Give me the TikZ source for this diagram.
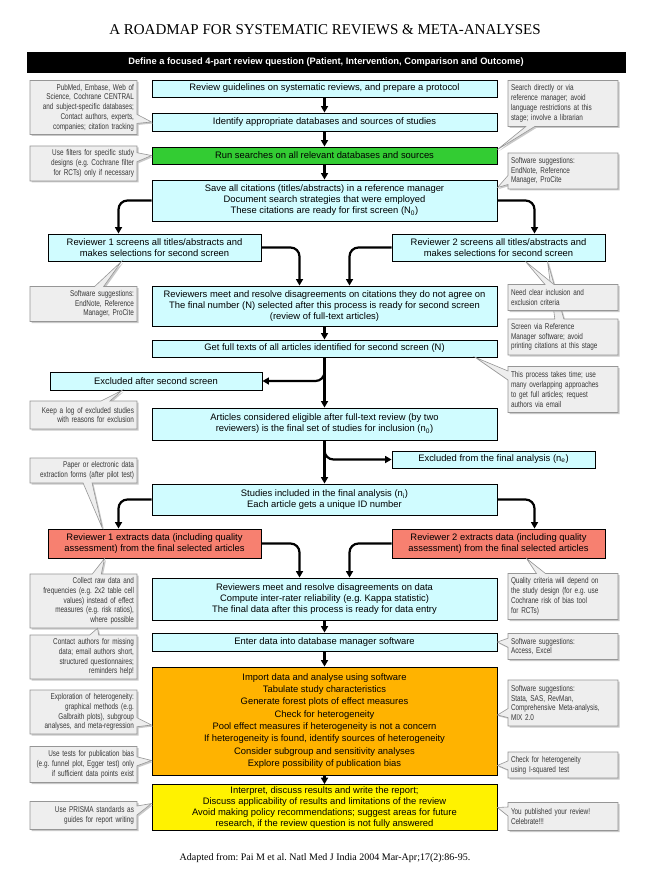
\documentclass[tikz,border=0pt]{standalone}
\usepackage{fontspec}
\setmainfont{Liberation Sans}
\newfontfamily\keskeny[FakeStretch=0.76]{Liberation Sans}
\newfontfamily\talpas{Liberation Serif}
\usetikzlibrary{arrows.meta,positioning,calc,shapes.callouts,shadows}
\frenchspacing
\definecolor{halvany}{RGB}{208,252,255}
\definecolor{zold}{RGB}{51,204,51}
\definecolor{lazac}{RGB}{247,128,112}
\definecolor{narancs}{RGB}{255,179,0}
\definecolor{sarga}{RGB}{255,242,0}
\definecolor{megjhat}{RGB}{238,238,238}
\definecolor{megjvon}{RGB}{150,150,150}
\definecolor{megjbetu}{RGB}{55,55,55}
\tikzset{
  lepes/.style={draw,line width=0.9pt,fill=halvany,minimum width=345pt,inner sep=2pt,
    align=center,font=\fontsize{9.4}{11}\selectfont},
  oldal/.style={lepes,minimum width=213pt},
  iv/.style={line width=2.2pt,-{Triangle[length=6.5pt,width=7pt]}},
  ivg/.style={iv,rounded corners=9pt},
  megj/.style={rectangle callout,draw=megjvon,fill=megjhat,line width=0.6pt,
    text=megjbetu,inner sep=3pt,callout pointer width=9pt,
    font=\keskeny\fontsize{8.4}{9.8}\selectfont,
    drop shadow={shadow xshift=1.5pt,shadow yshift=-1.5pt,fill=gray!70,opacity=0.6}},
  megjbal/.style={megj,align=right,text width=101pt},
  megjjobb/.style={megj,align=left,text width=104pt},
}
\begin{document}
\begin{tikzpicture}[x=1pt,y=-1pt]
  \fill[white] (0,0) rectangle (650,877);
  \useasboundingbox (0,0) rectangle (650,877);
  \node[font=\talpas\fontsize{15}{17}\selectfont] (cim) at (325,30) {A ROADMAP FOR SYSTEMATIC REVIEWS \& META-ANALYSES};
  \node[lepes,fill=black,text=white,minimum width=598pt,minimum height=20pt,
    font=\bfseries\fontsize{9.3}{11}\selectfont] (kerdes) at (326,62)
    {Define a focused 4-part review question (Patient, Intervention, Comparison and Outcome)};

  % fo oszlop
  \node[lepes,minimum height=17pt] (proto) at (324.5,88.5) {Review guidelines on systematic reviews, and prepare a protocol};
  \node[lepes,minimum height=18pt] (forras) at (324.5,122) {Identify appropriate databases and sources of studies};
  \node[lepes,fill=zold,minimum height=17pt] (kereses) at (324.5,155.5) {Run searches on all relevant databases and sources};
  \node[lepes,minimum height=41pt] (mentes) at (324.5,200.5) {Save all citations (titles/abstracts) in a reference manager\\
    Document search strategies that were employed\\These citations are ready for first screen (N\textsubscript{0})};
  \node[oldal,minimum height=27pt] (biral1) at (154.5,247.5) {Reviewer 1 screens all titles/abstracts and\\makes selections for second screen};
  \node[oldal,minimum height=27pt] (biral2) at (498.5,247.5) {Reviewer 2 screens all titles/abstracts and\\makes selections for second screen};
  \node[lepes,minimum height=40pt] (egyezt1) at (324.5,306) {Reviewers meet and resolve disagreements on citations they do not agree on\\
    The final number (N) selected after this process is ready for second screen\\(review of full-text articles)};
  \node[lepes,minimum height=17pt] (teljes) at (324.5,348.5) {Get full texts of all articles identified for second screen (N)};
  \node[oldal,minimum width=212pt,minimum height=18pt] (kizar1) at (156,381) {Excluded after second screen};
  \node[lepes,minimum height=32pt] (alkalmas) at (324.5,424) {Articles considered eligible after full-text review (by two\\
    reviewers) is the final set of studies for inclusion (n\textsubscript{0})};
  \node[oldal,minimum width=203pt,minimum height=17pt] (kizar2) at (493.5,459.5) {Excluded from the final analysis (n\textsubscript{e})};
  \node[lepes,minimum height=31pt] (bevont) at (324.5,499.5) {Studies included in the final analysis (n\textsubscript{i})\\Each article gets a unique ID number};
  \node[oldal,fill=lazac,minimum height=29pt] (kinyer1) at (154.5,543.5) {Reviewer 1 extracts data (including quality\\assessment) from the final selected articles};
  \node[oldal,fill=lazac,minimum height=29pt] (kinyer2) at (498.5,543.5) {Reviewer 2 extracts data (including quality\\assessment) from the final selected articles};
  \node[lepes,minimum height=42pt] (egyezt2) at (324.5,599) {Reviewers meet and resolve disagreements on data\\
    Compute inter-rater reliability (e.g. Kappa statistic)\\The final data after this process is ready for data entry};
  \node[lepes,minimum height=18pt] (bevitel) at (324.5,642) {Enter data into database manager software};
  \node[lepes,fill=narancs,minimum height=108pt,font=\fontsize{9.4}{12.3}\selectfont] (elemzes) at (324.5,721)
    {Import data and analyse using software\\Tabulate study characteristics\\Generate forest plots of effect measures\\
    Check for heterogeneity\\Pool effect measures if heterogeneity is not a concern\\
    If heterogeneity is found, identify sources of heterogeneity\\Consider subgroup and sensitivity analyses\\
    Explore possibility of publication bias};
  \node[lepes,fill=sarga,minimum height=45pt] (jelentes) at (324.5,807.5) {Interpret, discuss results and write the report;\\
    Discuss applicability of results and limitations of the review\\
    Avoid making policy recommendations; suggest areas for future\\research, if the review question is not fully answered};
  \node[font=\talpas\fontsize{10}{12}\selectfont] (forrasmu) at (325,858) {Adapted from: Pai M et al. Natl Med J India 2004 Mar-Apr;17(2):86-95.};

  % nyilak
  \draw[iv] (proto) -- (forras);
  \draw[iv] (forras) -- (kereses);
  \draw[iv] (kereses) -- (mentes);
  \draw[ivg] (mentes.west) -| ([xshift=-36pt]biral1.north);
  \draw[ivg] (mentes.east) -| ([xshift=36pt]biral2.north);
  \draw[ivg] (biral1.east) -| ([xshift=-25pt]egyezt1.north);
  \draw[ivg] (biral2.west) -| ([xshift=25pt]egyezt1.north);
  \draw[iv] (egyezt1) -- (teljes);
  \draw[iv] (teljes) -- (alkalmas);
  \draw[ivg] (teljes.south) |- (kizar1.east);
  \draw[iv] (alkalmas) -- (bevont);
  \draw[ivg] (alkalmas.south) |- (kizar2.west);
  \draw[ivg] (bevont.west) -| ([xshift=-36pt]kinyer1.north);
  \draw[ivg] (bevont.east) -| ([xshift=36pt]kinyer2.north);
  \draw[ivg] (kinyer1.east) -| ([xshift=-25pt]egyezt2.north);
  \draw[ivg] (kinyer2.west) -| ([xshift=25pt]egyezt2.north);
  \draw[iv] (egyezt2) -- (bevitel);
  \draw[iv] (bevitel) -- (elemzes);
  \draw[iv] (elemzes) -- (jelentes);

  % megjegyzesek bal oldalon
  \node[megjbal,minimum height=54pt,callout absolute pointer={(forras.west)}] (m1) at (83.5,107.5)
    {PubMed, Embase, Web of\\Science, Cochrane CENTRAL\\and subject-specific databases;\\Contact authors, experts,\\companies; citation tracking};
  \node[megjbal,minimum height=35pt,callout absolute pointer={(kereses.west)}] (m2) at (83.5,163.5)
    {Use filters for specific study\\designs (e.g. Cochrane filter\\for RCTs) only if necessary};
  \node[megjbal,minimum height=35pt,callout absolute pointer={([xshift=-33pt]biral1.south)}] (m3) at (83.5,304)
    {Software suggestions:\\EndNote, Reference\\Manager, ProCite};
  \node[megjbal,minimum height=28pt,callout absolute pointer={([xshift=-34pt]kizar1.south)}] (m4) at (83.5,415)
    {Keep a log of excluded studies\\with reasons for exclusion};
  \node[megjbal,minimum height=25pt,callout absolute pointer={([xshift=-52pt]kinyer1.north)}] (m5) at (83.5,470.5)
    {Paper or electronic data\\extraction forms (after pilot test)};
  \node[megjbal,minimum height=54pt,callout absolute pointer={([xshift=-50pt]kinyer1.south)}] (m6) at (83.5,601)
    {Collect raw data and\\frequencies (e.g. 2x2 table cell\\values) instead of effect\\measures (e.g. risk ratios),\\where possible};
  \node[megjbal,minimum height=44pt,callout absolute pointer={([xshift=14pt]m6.south)}] (m7) at (83.5,657)
    {Contact authors for missing\\data; email authors short,\\structured questionnaires;\\reminders help!};
  \node[megjbal,minimum height=44pt,callout absolute pointer={([yshift=-4pt]elemzes.west)}] (m8) at (83.5,712)
    {Exploration of heterogeneity:\\graphical methods (e.g.\\Galbraith plots), subgroup\\analyses, and meta-regression};
  \node[megjbal,minimum height=36pt,callout absolute pointer={([yshift=15pt]elemzes.south west)}] (m9) at (83.5,764.5)
    {Use tests for publication bias\\(e.g. funnel plot, Egger test) only\\if sufficient data points exist};
  \node[megjbal,minimum height=28pt,callout absolute pointer={([yshift=4pt]jelentes.west)}] (m10) at (83.5,815.5)
    {Use PRISMA standards as\\guides for report writing};

  % megjegyzesek jobb oldalon
  \node[megjjobb,minimum height=46pt,callout absolute pointer={([yshift=-3pt]kereses.north east)}] (n1) at (563,103.5)
    {Search directly or via\\reference manager; avoid\\language restrictions at this\\stage; involve a librarian};
  \node[megjjobb,minimum height=36pt,callout absolute pointer={([yshift=-8pt]mentes.north east)}] (n2) at (563,171)
    {Software suggestions:\\EndNote, Reference\\Manager, ProCite};
  \node[megjjobb,minimum height=36pt,callout absolute pointer={([xshift=49pt]biral2.south)}] (n4) at (563,337)
    {Screen via Reference\\Manager software; avoid\\printing citations at this stage};
  \node[megjjobb,minimum height=26pt,callout absolute pointer={([xshift=27pt]biral2.south)}] (n3) at (563,297.5)
    {Need clear inclusion and\\exclusion criteria};
  \node[megjjobb,minimum height=46pt,callout absolute pointer={([xshift=-22pt]teljes.south east)}] (n5) at (563,389.5)
    {This process takes time; use\\many overlapping approaches\\to get full articles; request\\authors via email};
  \node[megjjobb,minimum height=46pt,callout absolute pointer={([xshift=28pt]kinyer2.south)}] (n6) at (563,596.5)
    {Quality criteria will depend on\\the study design (for e.g. use\\Cochrane risk of bias tool\\for RCTs)};
  \node[megjjobb,minimum height=26pt,callout absolute pointer={(bevitel.east)}] (n7) at (563,646.5)
    {Software suggestions:\\Access, Excel};
  \node[megjjobb,minimum height=46pt,callout absolute pointer={([yshift=6pt]elemzes.east)}] (n8) at (563,703)
    {Software suggestions:\\Stata, SAS, RevMan,\\Comprehensive Meta-analysis,\\MIX 2.0};
  \node[megjjobb,minimum height=26pt,callout absolute pointer={([yshift=10pt]elemzes.south east)}] (n9) at (563,765)
    {Check for heterogeneity\\using I-squared test};
  \node[megjjobb,minimum height=28pt,callout absolute pointer={(jelentes.east)}] (n10) at (563,816.5)
    {You published your review!\\Celebrate!!!};
\end{tikzpicture}
\end{document}
